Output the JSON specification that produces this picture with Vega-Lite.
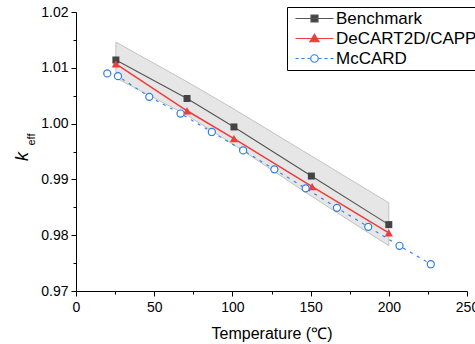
{
  "$schema": "https://vega.github.io/schema/vega-lite/v6.json",
  "width": 391,
  "height": 279,
  "autosize": "none",
  "padding": {"left": 76, "top": 12, "right": 8, "bottom": 53},
  "background": "white",
  "config": {
    "view": {"stroke": null},
    "font": "Liberation Sans",
    "axis": {"grid": false, "domainColor": "black", "tickColor": "black", "labelColor": "black", "titleColor": "black", "labelFont": "Liberation Sans", "titleFont": "Liberation Sans", "titleFontWeight": "normal", "labelFontSize": 14, "labelOverlap": false, "labelFlush": false}
  },
  "datasets": {
    "main": [
      {"series": "Benchmark", "T": 25.5, "k": 1.0114},
      {"series": "Benchmark", "T": 71, "k": 1.0045},
      {"series": "Benchmark", "T": 101, "k": 0.9994},
      {"series": "Benchmark", "T": 150.5, "k": 0.9906},
      {"series": "Benchmark", "T": 200, "k": 0.9819},
      {"series": "DeCART2D/CAPP", "T": 25.5, "k": 1.0107},
      {"series": "DeCART2D/CAPP", "T": 71, "k": 1.0023},
      {"series": "DeCART2D/CAPP", "T": 101, "k": 0.9973},
      {"series": "DeCART2D/CAPP", "T": 151, "k": 0.9887},
      {"series": "DeCART2D/CAPP", "T": 200, "k": 0.9804},
      {"series": "McCARD", "T": 20, "k": 1.0090},
      {"series": "McCARD", "T": 26.85, "k": 1.0085},
      {"series": "McCARD", "T": 46.85, "k": 1.0048},
      {"series": "McCARD", "T": 66.85, "k": 1.0018},
      {"series": "McCARD", "T": 86.85, "k": 0.9985},
      {"series": "McCARD", "T": 106.85, "k": 0.9952},
      {"series": "McCARD", "T": 126.85, "k": 0.9918},
      {"series": "McCARD", "T": 146.85, "k": 0.9884},
      {"series": "McCARD", "T": 166.85, "k": 0.9849},
      {"series": "McCARD", "T": 186.85, "k": 0.9815},
      {"series": "McCARD", "T": 206.85, "k": 0.9781},
      {"series": "McCARD", "T": 226.85, "k": 0.9748}
    ],
    "band": [
      {"T": 25.5, "lo": 1.0082, "hi": 1.0146},
      {"T": 71, "lo": 1.0015, "hi": 1.0075},
      {"T": 101, "lo": 0.9962, "hi": 1.0026},
      {"T": 150.5, "lo": 0.9870, "hi": 0.9942},
      {"T": 200, "lo": 0.9781, "hi": 0.9858}
    ]
  },
  "encoding": {
    "x": {
      "field": "T", "type": "quantitative",
      "scale": {"domain": [0, 250], "nice": false, "zero": false},
      "axis": {
        "title": "Temperature (℃)",
        "titleFontSize": 16,
        "titlePadding": 11,
        "values": [0, 25, 50, 75, 100, 125, 150, 175, 200, 225, 250],
        "labelExpr": "datum.value % 50 === 0 ? datum.label : ''",
        "tickSize": {"condition": {"test": "datum.value % 50 === 0", "value": 5}, "value": 3},
        "labelPadding": 4
      }
    }
  },
  "layer": [
    {
      "data": {"name": "band"},
      "mark": {"type": "area", "fill": "#e6e6e6", "stroke": "#c2c2c2", "strokeWidth": 1},
      "encoding": {
        "y": {
          "field": "hi", "type": "quantitative",
          "scale": {"domain": [0.97, 1.02], "nice": false, "zero": false},
          "axis": {
            "title": "k",
            "titleFontStyle": "italic",
            "titleFontSize": 18,
            "titleAngle": -90,
            "titleAlign": "center",
            "titleBaseline": "middle",
            "titleX": -54,
            "titleY": 144,
            "values": [0.97, 0.975, 0.98, 0.985, 0.99, 0.995, 1.0, 1.005, 1.01, 1.015, 1.02],
            "labelExpr": "round(datum.value*1000) % 10 === 0 ? format(datum.value, '.2f') : ''",
            "tickSize": {"condition": {"test": "round(datum.value*1000) % 10 === 0", "value": 5}, "value": 3},
            "labelPadding": 3
          }
        },
        "y2": {"field": "lo"}
      }
    },
    {
      "data": {"name": "main"},
      "transform": [{"filter": "datum.series === 'Benchmark'"}],
      "mark": {"type": "line", "color": "#555555", "strokeWidth": 1.1},
      "encoding": {"y": {"field": "k", "type": "quantitative", "axis": null}}
    },
    {
      "data": {"name": "main"},
      "transform": [{"filter": "datum.series === 'Benchmark'"}],
      "mark": {"type": "point", "shape": "square", "filled": true, "size": 49, "color": "#444444", "opacity": 1},
      "encoding": {"y": {"field": "k", "type": "quantitative", "axis": null}}
    },
    {
      "data": {"name": "main"},
      "transform": [{"filter": "datum.series === 'DeCART2D/CAPP'"}],
      "mark": {"type": "line", "color": "#f23b3b", "strokeWidth": 1.5},
      "encoding": {"y": {"field": "k", "type": "quantitative", "axis": null}}
    },
    {
      "data": {"name": "main"},
      "transform": [{"filter": "datum.series === 'DeCART2D/CAPP'"}],
      "mark": {"type": "point", "shape": "triangle-up", "filled": true, "size": 70, "color": "#f23b3b", "opacity": 1},
      "encoding": {"y": {"field": "k", "type": "quantitative", "axis": null}}
    },
    {
      "data": {"name": "main"},
      "transform": [{"filter": "datum.series === 'McCARD'"}],
      "mark": {"type": "line", "color": "#2e7ee6", "strokeWidth": 1.1, "strokeDash": [3, 5]},
      "encoding": {"y": {"field": "k", "type": "quantitative", "axis": null}}
    },
    {
      "data": {"name": "main"},
      "transform": [{"filter": "datum.series === 'McCARD'"}],
      "mark": {"type": "point", "shape": "circle", "filled": false, "fill": "white", "stroke": "#2e7ee6", "strokeWidth": 1.2, "size": 50, "opacity": 1, "fillOpacity": 1},
      "encoding": {
        "y": {
          "field": "k", "type": "quantitative",
          "axis": {
            "orient": "right",
            "domain": false,
            "ticks": false,
            "labels": false,
            "title": "eff",
            "titleFontSize": 11,
            "titleFontStyle": "normal",
            "titleAngle": -90,
            "titleAlign": "center",
            "titleBaseline": "middle",
            "titleX": -436,
            "titleY": 127
          }
        }
      }
    },
    {
      "data": {"name": "main"},
      "transform": [{"filter": "false"}],
      "mark": {"type": "point", "filled": true, "size": 100, "strokeWidth": 1.2, "opacity": 1},
      "encoding": {
        "y": {"field": "k", "type": "quantitative", "axis": null},
        "fill": {
          "field": "series", "type": "nominal",
          "scale": {"domain": ["Benchmark", "DeCART2D/CAPP", "McCARD"], "range": ["#444444", "#f23b3b", "#ffffff"]},
          "legend": {
            "title": null,
            "orient": "none",
            "legendX": 211,
            "legendY": -5,
            "strokeColor": "black",
            "fillColor": "white",
            "padding": 3,
            "labelFontSize": 17,
            "labelFont": "Liberation Sans",
            "labelColor": "black",
            "labelLimit": 400,
            "symbolSize": 100,
            "symbolStrokeWidth": 1.2,
            "symbolOpacity": 1,
            "symbolOffset": 16,
            "labelOffset": 13,
            "rowPadding": 2
          }
        },
        "stroke": {
          "field": "series", "type": "nominal",
          "scale": {"domain": ["Benchmark", "DeCART2D/CAPP", "McCARD"], "range": ["#555555", "#f23b3b", "#2e7ee6"]},
          "legend": {
            "title": null,
            "orient": "none",
            "legendX": 211,
            "legendY": -5
          }
        },
        "shape": {
          "field": "series", "type": "nominal",
          "scale": {
            "domain": ["Benchmark", "DeCART2D/CAPP", "McCARD"],
            "range": [
              "M-3.8,0H3.8M-0.7,-0.7H0.7V0.7H-0.7Z",
              "M-3.8,0H3.8M0,-0.85L0.9,0.65H-0.9Z",
              "M-3.8,0H-3.2M-2.6,0H-2M-1.4,0H-0.9M0.9,0H1.4M2,0H2.6M3.2,0H3.8M0.75,0C0.75,0.414 0.414,0.75 0,0.75C-0.414,0.75 -0.75,0.414 -0.75,0C-0.75,-0.414 -0.414,-0.75 0,-0.75C0.414,-0.75 0.75,-0.414 0.75,0Z"
            ]
          },
          "legend": {
            "title": null,
            "orient": "none",
            "legendX": 211,
            "legendY": -5
          }
        }
      }
    }
  ],
  "resolve": {"axis": {"y": "independent"}}
}
